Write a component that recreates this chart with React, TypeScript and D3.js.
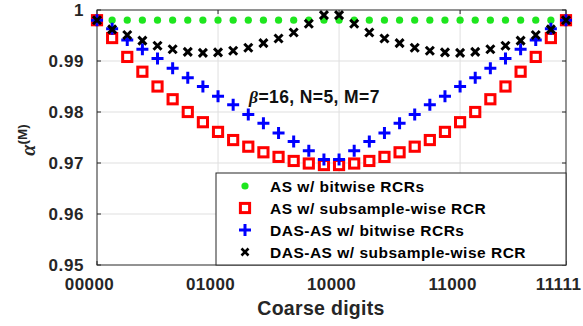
import React from 'react';
import * as d3 from 'd3';

const categories = [
  '00000', '00001', '00010', '00011', '00100', '00101', '00110', '00111',
  '01000', '01001', '01010', '01011', '01100', '01101', '01110', '01111',
  '10000', '10001', '10010', '10011', '10100', '10101', '10110', '10111',
  '11000', '11001', '11010', '11011', '11100', '11101', '11110', '11111',
];

const asBitwise = [
  0.998, 0.998, 0.998, 0.998, 0.998, 0.998, 0.998, 0.998,
  0.998, 0.998, 0.998, 0.998, 0.998, 0.998, 0.998, 0.998,
  0.998, 0.998, 0.998, 0.998, 0.998, 0.998, 0.998, 0.998,
  0.998, 0.998, 0.998, 0.998, 0.998, 0.998, 0.998, 0.998,
];

const asSubsample = [
  0.998, 0.9945, 0.9908, 0.9879, 0.985, 0.9825, 0.98, 0.978,
  0.9761, 0.9745, 0.9732, 0.9721, 0.9712, 0.9704, 0.9699, 0.9696,
  0.9696, 0.9699, 0.9704, 0.9712, 0.9721, 0.9732, 0.9745, 0.9761,
  0.978, 0.98, 0.9825, 0.985, 0.9879, 0.9908, 0.9945, 0.998,
];

const dasBitwise = [
  0.998, 0.9963, 0.9941, 0.9923, 0.9905, 0.9886, 0.9867, 0.985,
  0.9831, 0.9814, 0.9795, 0.9778, 0.9759, 0.9742, 0.9724, 0.9707,
  0.9707, 0.9724, 0.9742, 0.9759, 0.9778, 0.9795, 0.9814, 0.9831,
  0.985, 0.9867, 0.9886, 0.9905, 0.9923, 0.9941, 0.9963, 0.998,
];

const dasSubsample = [
  0.998, 0.9962, 0.9951, 0.994, 0.993, 0.9923, 0.9918, 0.9916,
  0.9917, 0.992, 0.9926, 0.9935, 0.9944, 0.9956, 0.9973, 0.999,
  0.999, 0.9973, 0.9956, 0.9944, 0.9935, 0.9926, 0.992, 0.9917,
  0.9916, 0.9918, 0.9923, 0.993, 0.994, 0.9951, 0.9962, 0.998,
];

const xTickLabels = ['00000', '01000', '10000', '11000', '11111'];
const yTicks = [0.95, 0.96, 0.97, 0.98, 0.99, 1];
const yTickLabels = ['0.95', '0.96', '0.97', '0.98', '0.99', '1'];

const legendLabels = [
  'AS w/ bitwise RCRs',
  'AS w/ subsample-wise RCR',
  'DAS-AS w/ bitwise RCRs',
  'DAS-AS w/ subsample-wise RCR',
];

const W = 583;
const H = 326;
const left = 97;
const right = 566;
const top = 10;
const bottom = 265;
const axisColor = '#262626';
const font = 'Liberation Sans, Arial, Helvetica, sans-serif';

const Dot = ({ x, y }: { x: number; y: number }) => (
  <circle cx={x} cy={y} r={3.6} fill="#1ee61e" />
);
const Square = ({ x, y }: { x: number; y: number }) => (
  <rect x={x - 4.6} y={y - 4.6} width={9.2} height={9.2} fill="#fff" stroke="#ff0000" strokeWidth={3} />
);
const Plus = ({ x, y }: { x: number; y: number }) => (
  <path d={`M${x - 6},${y}H${x + 6}M${x},${y - 6}V${y + 6}`} stroke="#0000ff" strokeWidth={3} />
);
const Cross = ({ x, y }: { x: number; y: number }) => (
  <path d={`M${x - 4},${y - 4}L${x + 4},${y + 4}M${x - 4},${y + 4}L${x + 4},${y - 4}`} stroke="#000" strokeWidth={3} />
);

const series = [
  { values: asBitwise, Marker: Dot },
  { values: asSubsample, Marker: Square },
  { values: dasBitwise, Marker: Plus },
  { values: dasSubsample, Marker: Cross },
];

const App = () => {
  const x = d3.scalePoint<string>().domain(categories).range([left, right]);
  const y = d3.scaleLinear().domain([0.95, 1]).range([bottom, top]);

  const legendX = 216;
  const legendY = 173;
  const legendRows = [186, 208, 230, 252];

  return (
    <svg width={W} height={H} style={{ position: 'absolute', left: 0, top: 0 }} fontFamily={font}>
      <rect width={W} height={H} fill="#fff" />

      {/* grid */}
      {xTickLabels.slice(1, -1).map((t) => (
        <line key={t} x1={x(t)} x2={x(t)} y1={top} y2={bottom} stroke="#dfdfdf" strokeWidth={1} />
      ))}
      {yTicks.slice(1, -1).map((t) => (
        <line key={t} x1={left} x2={right} y1={y(t)} y2={y(t)} stroke="#dfdfdf" strokeWidth={1} />
      ))}

      {/* ticks */}
      {xTickLabels.map((t) => (
        <g key={t}>
          <line x1={x(t)} x2={x(t)} y1={bottom} y2={bottom - 4} stroke={axisColor} />
          <line x1={x(t)} x2={x(t)} y1={top} y2={top + 4} stroke={axisColor} />
          <text x={(x(t) as number) - 7.5} y={290} textAnchor="middle" fontSize={17} letterSpacing={0.4} fontWeight="bold" fill={axisColor}>
            {t}
          </text>
        </g>
      ))}
      {yTicks.map((t, i) => (
        <g key={t}>
          <line x1={left} x2={left + 4} y1={y(t)} y2={y(t)} stroke={axisColor} />
          <line x1={right} x2={right - 4} y1={y(t)} y2={y(t)} stroke={axisColor} />
          <text x={84} y={y(t) + 6} textAnchor="end" fontSize={17} letterSpacing={0.6} fontWeight="bold" fill={axisColor}>
            {yTickLabels[i]}
          </text>
        </g>
      ))}

      <rect x={left} y={top} width={right - left} height={bottom - top} fill="none" stroke={axisColor} strokeWidth={1} />

      {/* series */}
      {series.map(({ values, Marker }, si) => (
        <g key={si}>
          {values.map((v, i) => (
            <Marker key={i} x={x(categories[i]) as number} y={y(v)} />
          ))}
        </g>
      ))}

      {/* annotation */}
      <text x={249} y={103} fontSize={17.5} letterSpacing={0.4} fontWeight="bold" fill="#111">
        <tspan fontFamily="Liberation Serif, DejaVu Serif, serif" fontStyle="italic">β</tspan>
        <tspan>=16, N=5, M=7</tspan>
      </text>

      {/* legend */}
      <rect x={legendX} y={legendY} width={right - legendX} height={bottom - legendY} fill="#fff" stroke={axisColor} strokeWidth={1} />
      <Dot x={245} y={legendRows[0]} />
      <Square x={245} y={legendRows[1]} />
      <Plus x={245} y={legendRows[2]} />
      <path d={`M241.5,${legendRows[3] - 3.5}L248.5,${legendRows[3] + 3.5}M241.5,${legendRows[3] + 3.5}L248.5,${legendRows[3] - 3.5}`} stroke="#000" strokeWidth={2.6} />
      {legendLabels.map((l, i) => (
        <text key={l} x={270} y={legendRows[i] + 5.5} fontSize={15.5} letterSpacing={0.5} fontWeight="bold" fill="#000">
          {l}
        </text>
      ))}

      {/* axis labels */}
      <text x={321} y={315} textAnchor="middle" fontSize={19.5} letterSpacing={0.3} fontWeight="bold" fill={axisColor}>
        Coarse digits
      </text>
      <text transform="translate(35,140) rotate(-90)" textAnchor="middle" fill={axisColor}>
        <tspan fontFamily="Liberation Serif, DejaVu Serif, serif" fontStyle="italic" fontWeight="bold" fontSize={20}>α</tspan>
        <tspan dy={-8} fontSize={13.5} fontWeight="bold">(M)</tspan>
      </text>
    </svg>
  );
};

export default App;
